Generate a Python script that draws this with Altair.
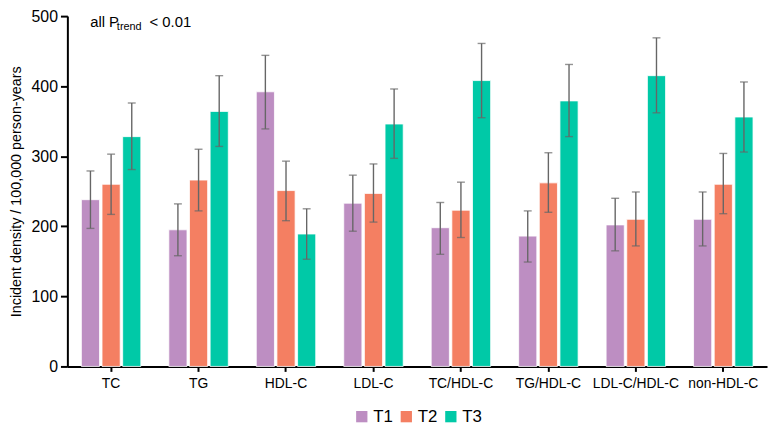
import altair as alt
import pandas as pd

categories = ["TC", "TG", "HDL-C", "LDL-C", "TC/HDL-C", "TG/HDL-C", "LDL-C/HDL-C", "non-HDL-C"]
groups = ["T1", "T2", "T3"]

t1 = [238, 195, 392, 233, 198, 186, 202, 210]
t1_lo = [197, 158, 339, 193, 160, 149, 165, 172]
t1_hi = [279, 232, 444, 273, 234, 222, 240, 249]

t2 = [260, 266, 251, 247, 223, 262, 210, 260]
t2_lo = [217, 222, 208, 206, 184, 220, 172, 218]
t2_hi = [303, 310, 293, 289, 263, 305, 249, 304]

t3 = [328, 364, 189, 346, 408, 379, 415, 356]
t3_lo = [281, 314, 153, 297, 355, 328, 362, 306]
t3_hi = [376, 415, 225, 396, 461, 431, 469, 406]

colors = ["#BD8EC2", "#F47F62", "#00C9A7"]

rows = []
for g, vals, lo, hi in zip(groups, [t1, t2, t3], [t1_lo, t2_lo, t3_lo], [t1_hi, t2_hi, t3_hi]):
    for c, v, l, h in zip(categories, vals, lo, hi):
        rows.append({"marker": c, "group": g, "value": v, "lo": l, "hi": h})
df = pd.DataFrame(rows)

font = "Liberation Sans"

x_enc = alt.X("marker:N", sort=categories, title=None,
              scale=alt.Scale(paddingInner=0.32, paddingOuter=0.16),
              axis=alt.Axis(labelAngle=0, labelFontSize=14, labelColor="black", labelFont=font,
                            domainColor="black", domainWidth=2, tickColor="black", tickWidth=2,
                            tickSize=5, labelPadding=5))
off_enc = alt.XOffset("group:N", sort=groups, scale=alt.Scale(paddingInner=0.12, paddingOuter=0))

base = alt.Chart(df)

bars = base.mark_bar(stroke="white", strokeWidth=0.8).encode(
    x=x_enc,
    xOffset=off_enc,
    y=alt.Y("value:Q", title="Incident density / 100,000 person-years",
            scale=alt.Scale(domain=[0, 500], nice=False),
            axis=alt.Axis(values=[0, 100, 200, 300, 400, 500], grid=False, labelFontSize=16,
                          labelColor="black", labelFont=font, domainColor="black", domainWidth=2,
                          tickColor="black", tickWidth=2, tickSize=7, labelPadding=3,
                          titleFontSize=14.5, titleFontWeight="normal", titleFont=font,
                          titleColor="black", titlePadding=8)),
    color=alt.Color("group:N", scale=alt.Scale(domain=groups, range=colors),
                    legend=alt.Legend(title=None, orient="none", direction="horizontal",
                                      legendX=289, legendY=396, symbolType="square",
                                      symbolSize=130, symbolStrokeWidth=0, labelFontSize=17,
                                      labelFont=font, labelColor="black", labelOffset=3,
                                      columnPadding=5, symbolOpacity=1)),
)

err = base.mark_rule(color="#666666", strokeWidth=1.4).encode(
    x=alt.X("marker:N", sort=categories),
    xOffset=off_enc,
    y="lo:Q",
    y2="hi:Q",
)
cap_lo = base.mark_tick(color="#666666", thickness=1.4, size=8).encode(
    x=alt.X("marker:N", sort=categories),
    xOffset=off_enc,
    y="lo:Q",
)
cap_hi = base.mark_tick(color="#666666", thickness=1.4, size=8).encode(
    x=alt.X("marker:N", sort=categories),
    xOffset=off_enc,
    y="hi:Q",
)

note = pd.DataFrame({"a": [0]})
t_all = alt.Chart(note).mark_text(align="left", fontSize=15, font=font, color="black").encode(
    x=alt.value(23), y=alt.value(6), text=alt.value("all P"))
t_sub = alt.Chart(note).mark_text(align="left", fontSize=11, font=font, color="black").encode(
    x=alt.value(50), y=alt.value(11), text=alt.value("trend"))
t_lt = alt.Chart(note).mark_text(align="left", fontSize=15, font=font, color="black").encode(
    x=alt.value(83), y=alt.value(6), text=alt.value("< 0.01"))

chart = alt.layer(bars, err, cap_lo, cap_hi, t_all, t_sub, t_lt).properties(
    width=707, height=354,
    autosize=alt.AutoSizeParams(type="none"),
    padding={"left": 60, "top": 6, "right": 2, "bottom": 59},
).configure_view(stroke=None)

chart.save("out.html", embed_options={"renderer": "svg", "actions": False})
